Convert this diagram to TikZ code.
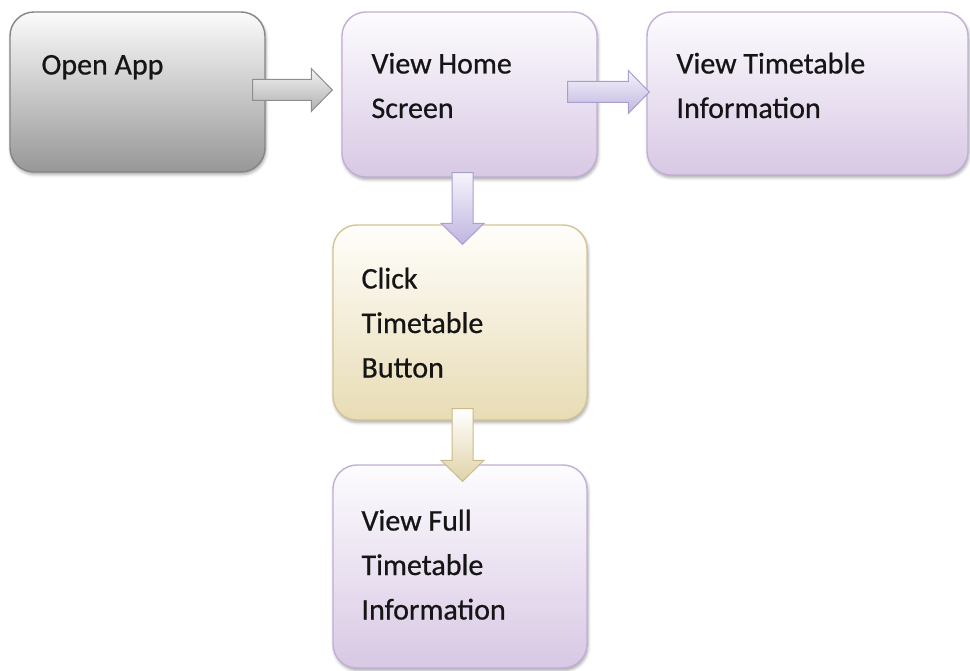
\documentclass[tikz,border=0pt]{standalone}
\usepackage{fontspec}
\setmainfont{Carlito}[FakeBold=0.6]
\usetikzlibrary{calc,shadows.blur}

% colours of the boxes and block arrows
\definecolor{greyTop}{HTML}{FBFBFB}
\definecolor{greyBot}{HTML}{979797}
\definecolor{greyLine}{HTML}{858585}
\definecolor{lilacTop}{HTML}{FDFCFE}
\definecolor{lilacBot}{HTML}{D8C8E4}
\definecolor{lilacLine}{HTML}{C2AFD6}
\definecolor{sandTop}{HTML}{FFFEFB}
\definecolor{sandBot}{HTML}{E8DCB5}
\definecolor{sandLine}{HTML}{D4C594}
\definecolor{agreyTop}{HTML}{F2F2F2}
\definecolor{agreyBot}{HTML}{B0B0B0}
\definecolor{agreyLine}{HTML}{8E8E8E}
\definecolor{alilacTop}{HTML}{F6F4FB}
\definecolor{alilacBot}{HTML}{C0B5E0}
\definecolor{alilacLine}{HTML}{A99ED0}
\definecolor{asandTop}{HTML}{FFFFFF}
\definecolor{asandBot}{HTML}{E0D3A8}
\definecolor{asandLine}{HTML}{C9BA88}
\definecolor{ink}{HTML}{151515}

% block arrow pointing right: style, tail point, tip point
\newcommand\blockarrowH[3]{%
  \draw[#1] let \p1=(#2), \p2=(#3) in
    (\x1,\y1+10.5pt) -- (\x2-21pt,\y1+10.5pt) -- (\x2-21pt,\y1+21.5pt)
    -- (\x2,\y1) -- (\x2-21pt,\y1-21.5pt) -- (\x2-21pt,\y1-10.5pt)
    -- (\x1,\y1-10.5pt) -- cycle;}
% block arrow pointing down: style, tail point, tip point
\newcommand\blockarrowV[3]{%
  \draw[#1] let \p1=(#2), \p2=(#3) in
    (\x1-10.5pt,\y1) -- (\x1-10.5pt,\y2+21pt) -- (\x1-21.5pt,\y2+21pt)
    -- (\x1,\y2) -- (\x1+21.5pt,\y2+21pt) -- (\x1+10.5pt,\y2+21pt)
    -- (\x1+10.5pt,\y1) -- cycle;}

\tikzset{
  box/.style={rectangle, rounded corners=24pt, line width=1.4pt, inner sep=0pt,
    blur shadow={shadow xshift=1pt, shadow yshift=-2.5pt,
                 shadow blur radius=3pt, shadow opacity=35}},
  greybox/.style={box, draw=greyLine, top color=greyTop, bottom color=greyBot},
  lilacbox/.style={box, draw=lilacLine, top color=lilacTop, bottom color=lilacBot},
  sandbox/.style={box, draw=sandLine, top color=sandTop, bottom color=sandBot},
  caption/.style={anchor=north west, inner sep=0pt, align=left, text=ink,
    font=\fontsize{30}{44.5}\selectfont},
  greyarrow/.style={line width=1pt, draw=agreyLine, top color=agreyTop, bottom color=agreyBot, line join=miter},
  lilacarrow/.style={line width=1pt, draw=alilacLine, top color=alilacTop, bottom color=alilacBot, line join=miter},
  sandarrow/.style={line width=1pt, draw=asandLine, top color=asandTop, bottom color=asandBot, line join=miter},
}
\newcommand\firstline{\rule{0pt}{22pt}}

\begin{document}
\begin{tikzpicture}[x=1pt, y=-1pt]
\useasboundingbox (0,0) rectangle (970,671);

% boxes
\node[greybox,  minimum width=255pt, minimum height=160pt] (open)  at (137.5,92)  {};
\node[lilacbox, minimum width=255pt, minimum height=165pt] (home)  at (469.5,94.5) {};
\node[lilacbox, minimum width=321pt, minimum height=163pt] (info)  at (807.5,93.5) {};
\node[sandbox,  minimum width=254pt, minimum height=195pt] (click) at (460,322.5)  {};
\node[lilacbox, minimum width=254pt, minimum height=203pt] (full)  at (460,566.5)  {};

% captions
\node[caption] (openT)  at ($(open.north west)+(32,41)$)  {\firstline Open App};
\node[caption] (homeT)  at ($(home.north west)+(30,40)$)  {\firstline View Home\\Screen};
\node[caption] (infoT)  at ($(info.north west)+(30,40)$)  {\firstline View Timetable\\Information};
\node[caption] (clickT) at ($(click.north west)+(29,42)$) {\firstline Click\\Timetable\\Button};
\node[caption] (fullT)  at ($(full.north west)+(29,44)$)  {\firstline View Full\\Timetable\\Information};

% connectors
\coordinate (a1s) at ($(open.east)+(-13,-2)$);
\coordinate (a1e) at ($(home.west)+(-9,0)$);
\coordinate (a2s) at ($(home.east)+(-30,-2.5)$);
\coordinate (a2e) at ($(info.west)+(3,0)$);
\coordinate (a3s) at ($(home.south)+(-7,-5)$);
\coordinate (a3e) at ($(click.north)+(0,20)$);
\coordinate (a4s) at ($(click.south)+(2.5,-12)$);
\coordinate (a4e) at ($(full.north)+(0,17)$);
\blockarrowH{greyarrow}{a1s}{a1e}
\blockarrowH{lilacarrow}{a2s}{a2e}
\blockarrowV{lilacarrow}{a3s}{a3e}
\blockarrowV{sandarrow}{a4s}{a4e}
\end{tikzpicture}
\end{document}
